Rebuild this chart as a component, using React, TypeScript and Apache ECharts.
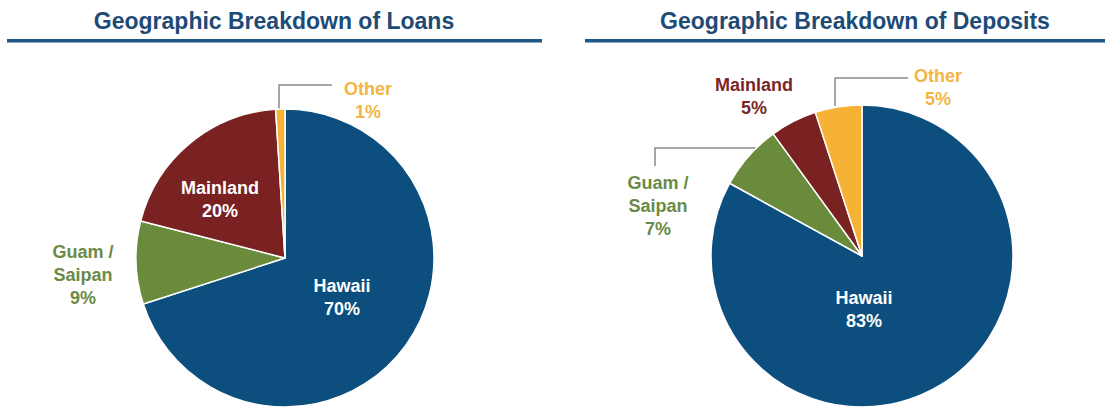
import React, { useEffect, useRef } from "react";
import * as echarts from "echarts";

// ---- data ----
const categories = ["Hawaii", "Guam / Saipan", "Mainland", "Other"];
const categoryLabels = ["Hawaii", "Guam /\nSaipan", "Mainland", "Other"];
const loanValues = [70, 9, 20, 1];
const depositValues = [83, 7, 5, 5];
const chartTitles = ["Geographic Breakdown of Loans", "Geographic Breakdown of Deposits"];

// ---- styles ----
const sliceColors = ["#0c4e7e", "#6a8a3c", "#7a2121", "#f6b234"];
const loanLabelColors = ["#ffffff", "#6b8a45", "#ffffff", "#f2b544"];
const depositLabelColors = ["#ffffff", "#6b8a45", "#7a2626", "#f2b544"];
const loanLabelInside = [true, false, true, false];
const depositLabelInside = [true, false, false, false];
const loanLineShow = [false, false, false, true];
const depositLineShow = [false, true, false, true];

const loanLabelPos = [[342, 297], [83, 275], [220, 199], [368, 100]];
const depositLabelPos = [[864, 309], [658, 206], [754, 96], [938, 87]];
const loanLinePts: any[] = [null, null, null, [[279, 109], [279, 85], [332, 85]]];
const depositLinePts: any[] = [null, [[757, 148], [655, 148], [655, 166]], null, [[835, 106], [835, 78], [908, 78]]];

const FONT = "'Liberation Sans', Arial, Helvetica, sans-serif";
const TITLE_COLOR = "#1d4b76";

function buildSeries(
  name: string,
  values: number[],
  center: [number, number],
  radius: number,
  labelColors: string[],
  inside: boolean[],
  lineShow: boolean[],
  pos: number[][],
  lines: any[]
) {
  return {
    name,
    type: "pie",
    center,
    radius,
    startAngle: 90,
    clockwise: true,
    avoidLabelOverlap: false,
    itemStyle: { borderColor: "#ffffff", borderWidth: 1.5 },
    emphasis: { disabled: true },
    labelLine: { show: false, lineStyle: { color: "#8a8a8a", width: 1.5 } },
    labelLayout: (params: any) => {
      const p = pos[params.dataIndex];
      const out: any = { x: p[0], y: p[1], align: "center", verticalAlign: "middle" };
      if (lines[params.dataIndex]) out.labelLinePoints = lines[params.dataIndex];
      return out;
    },
    data: values.map((v, i) => ({
      name: categories[i],
      value: v,
      itemStyle: { color: sliceColors[i] },
      label: {
        show: true,
        position: inside[i] ? "inside" : "outside",
        formatter: `${categoryLabels[i]}\n${v}%`,
        color: labelColors[i],
        fontFamily: FONT,
        fontWeight: "bold",
        fontSize: 18,
        lineHeight: 23,
        align: "center",
      },
      labelLine: {
        show: lineShow[i],
        lineStyle: { color: "#8a8a8a", width: 1.5 },
      },
    })),
  };
}

export default function App() {
  const ref = useRef<HTMLDivElement>(null);
  useEffect(() => {
    document.body.style.margin = "0";
    const chart = echarts.init(ref.current!, null, { renderer: "svg" });
    chart.setOption({
      animation: false,
      backgroundColor: "#ffffff",
      graphic: [
        {
          type: "text",
          x: 274,
          y: 21,
          style: {
            text: chartTitles[0],
            align: "center",
            verticalAlign: "middle",
            fill: TITLE_COLOR,
            font: `bold 23px ${FONT}`,
          },
        },
        {
          type: "text",
          x: 855,
          y: 21,
          style: {
            text: chartTitles[1],
            align: "center",
            verticalAlign: "middle",
            fill: TITLE_COLOR,
            font: `bold 23px ${FONT}`,
          },
        },
        { type: "rect", shape: { x: 7, y: 39, width: 535, height: 3.5 }, style: { fill: "#1f5785" } },
        { type: "rect", shape: { x: 585, y: 39, width: 520, height: 3.5 }, style: { fill: "#1f5785" } },
      ],
      series: [
        buildSeries("Loans", loanValues, [285, 258], 149, loanLabelColors, loanLabelInside, loanLineShow, loanLabelPos, loanLinePts),
        buildSeries("Deposits", depositValues, [862, 256], 151, depositLabelColors, depositLabelInside, depositLineShow, depositLabelPos, depositLinePts),
      ],
    });
    return () => chart.dispose();
  }, []);
  return (
    <div
      ref={ref}
      style={{ position: "absolute", left: 0, top: 0, width: 1110, height: 411 }}
    />
  );
}
